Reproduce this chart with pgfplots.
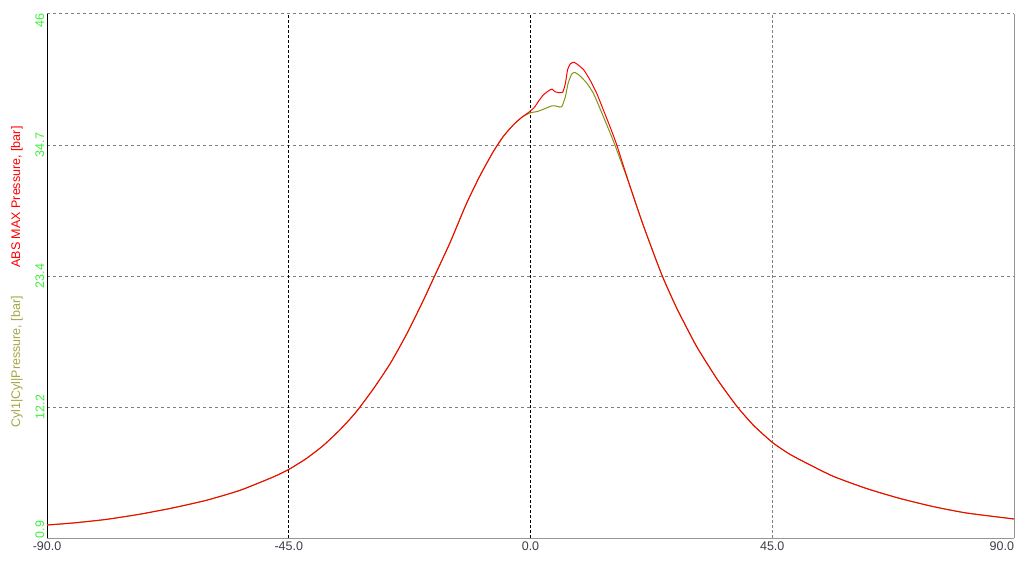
\documentclass[border=0pt]{standalone}
\usepackage{pgfplots}
\pgfplotsset{compat=1.18}
\usepackage{fontspec}
\setmainfont{Liberation Sans}

\definecolor{absred}{RGB}{255,0,0}
\definecolor{cylline}{RGB}{128,150,20}
\definecolor{cyllabel}{RGB}{165,165,70}
\definecolor{tickgreen}{RGB}{60,240,60}
\definecolor{xlab}{RGB}{60,60,75}
\definecolor{gridgray}{RGB}{128,128,128}
\definecolor{spinegray}{RGB}{150,150,150}

\begin{document}
\begin{tikzpicture}
\begin{axis}[
    name=ax,
    scale only axis,
    width=967pt, height=524pt,
    xmin=-90, xmax=90,
    ymin=0.9, ymax=46,
    clip=false,
    axis x line*=bottom,
    axis y line*=left,
    x axis line style={-, draw=spinegray, line width=1pt},
    y axis line style={-, draw=black, line width=1pt},
    major tick length=0pt,
    /pgf/number format/assume math mode=true,
    xtick={-90,-45,0,45,90},
    xticklabels={-90.0,-45.0,0.0,45.0,\makebox[0pt][r]{90.0}},
    xticklabel style={text=xlab, font=\fontsize{12.5}{14}\selectfont},
    ytick={0.9,12.175,23.45,34.725,46},
    yticklabels={\makebox[0pt][l]{0.9},12.2,23.4,34.7,\makebox[0pt][r]{46}},
    yticklabel style={rotate=90, anchor=south, inner sep=2.5pt, text=tickgreen, font=\fontsize{12.5}{14}\selectfont},
    ymajorgrids,
    major grid style={draw=gridgray, line width=1pt, dash pattern=on 3pt off 3pt},
]
% vertical grid
\draw[black, line width=1pt, dash pattern=on 3pt off 2pt] (axis cs:-45,0.9) -- (axis cs:-45,46);
\draw[black, line width=1pt, dash pattern=on 3pt off 2pt] (axis cs:0,0.9) -- (axis cs:0,46);
\draw[gridgray, line width=1pt, dash pattern=on 3pt off 2pt] (axis cs:45,0.9) -- (axis cs:45,46);
\draw[spinegray, line width=1pt] (rel axis cs:1,0) -- (rel axis cs:1,1);

% Cyl1|Cyl|Pressure
\addplot[cylline, line width=1pt, smooth, tension=0.35] coordinates {
    (-90,2.02) (-85,2.2) (-79,2.5) (-72.7,2.95) (-66.5,3.5) (-60.3,4.15)
    (-54.1,5.0) (-47.9,6.15) (-45,6.8) (-41.7,7.75) (-38.6,8.85) (-35.5,10.2)
    (-33,11.45) (-31.7,12.2) (-29,13.9) (-26,16.0) (-23,18.5) (-20,21.3)
    (-17.9,23.4) (-15,26.3) (-12,29.6) (-9.5,32.0) (-7,34.1) (-5,35.5)
    (-3,36.55) (-1.5,37.15) (0,37.5) (1.2,37.6) (2.4,37.8) (4.0,38.1) (4.9,38.06)
    (5.8,38.0) (6.5,38.9) (7.0,40.04) (7.7,40.85) (8.3,40.96) (9.2,40.68)
    (10.5,40.04) (11.7,39.18) (12.9,37.9) (14.2,36.46) (15.7,34.74) (18.5,31.2)
    (21.0,27.8) (24.4,23.6) (27.2,20.7) (30.9,17.4) (34.7,14.6) (38.3,12.3)
    (41.5,10.6) (45.1,9.1) (48.3,8.1) (52,7.2) (56.4,6.2) (62.6,5.15)
    (68.8,4.3) (75,3.6) (81.2,3.05) (90,2.54)
};
% ABS MAX Pressure
\addplot[absred, line width=1pt, smooth, tension=0.35] coordinates {
    (-90,2.02) (-85,2.2) (-79,2.5) (-72.7,2.95) (-66.5,3.5) (-60.3,4.15)
    (-54.1,5.0) (-47.9,6.15) (-45,6.8) (-41.7,7.75) (-38.6,8.85) (-35.5,10.2)
    (-33,11.45) (-31.7,12.2) (-29,13.9) (-26,16.0) (-23,18.5) (-20,21.3)
    (-17.9,23.4) (-15,26.3) (-12,29.6) (-9.5,32.0) (-7,34.1) (-5,35.5)
    (-3,36.55) (-1.5,37.15) (-0.3,37.55) (0.7,37.95) (1.5,38.5) (2.4,39.04)
    (3.4,39.4) (4.0,39.53) (4.6,39.3) (5.2,39.24) (6.0,39.27) (6.5,40.04)
    (6.9,41.2) (7.4,41.7) (8.1,41.85) (8.9,41.6) (9.9,41.2) (11.1,40.3)
    (12.3,39.2) (13.6,37.7) (14.8,36.3) (16.0,34.8) (18.5,31.2) (21.0,27.8)
    (24.4,23.6) (27.2,20.7) (30.9,17.4) (34.7,14.6) (38.3,12.3) (41.5,10.6)
    (45.1,9.1) (48.3,8.1) (52,7.2) (56.4,6.2) (62.6,5.15) (68.8,4.3)
    (75,3.6) (81.2,3.05) (90,2.54)
};

\node[rotate=90, text=absred, font=\fontsize{12.5}{15}\selectfont] at (axis cs:-95.6,30.25) {ABS MAX Pressure, [bar]};
\node[rotate=90, text=cyllabel, font=\fontsize{12.5}{15}\selectfont] at (axis cs:-95.6,16.05) {Cyl1|Cyl|Pressure, [bar]};
\end{axis}
\pgfresetboundingbox
\path[use as bounding box] ([shift={(-47pt,-23pt)}]ax.south west) rectangle ([shift={(10pt,14pt)}]ax.north east);
\end{tikzpicture}
\end{document}
